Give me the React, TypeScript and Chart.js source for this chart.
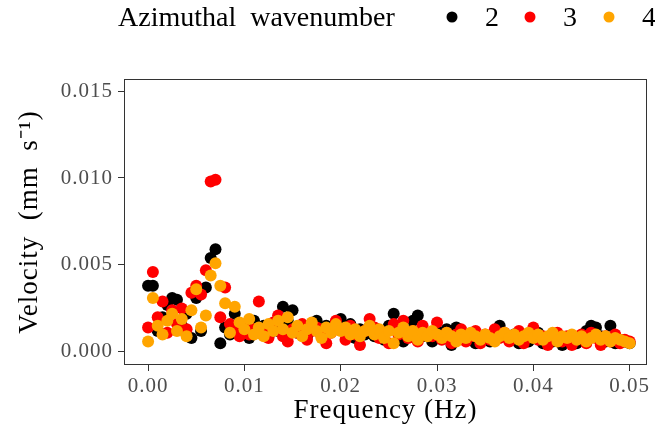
import React, { useEffect, useRef } from "react";
import { Chart, registerables } from "chart.js";

Chart.register(...registerables);

const freq = [
  0, 0.0005, 0.001, 0.0015, 0.002, 0.0025, 0.003, 0.0035, 0.004, 0.0045,
  0.005, 0.0055, 0.006, 0.0065, 0.007, 0.0075, 0.008, 0.0085, 0.009, 0.0095,
  0.01, 0.0105, 0.011, 0.0115, 0.012, 0.0125, 0.013, 0.0135, 0.014, 0.0145,
  0.015, 0.0155, 0.016, 0.0165, 0.017, 0.0175, 0.018, 0.0185, 0.019, 0.0195,
  0.02, 0.0205, 0.021, 0.0215, 0.022, 0.0225, 0.023, 0.0235, 0.024, 0.0245,
  0.025, 0.0255, 0.026, 0.0265, 0.027, 0.0275, 0.028, 0.0285, 0.029, 0.0295,
  0.03, 0.0305, 0.031, 0.0315, 0.032, 0.0325, 0.033, 0.0335, 0.034, 0.0345,
  0.035, 0.0355, 0.036, 0.0365, 0.037, 0.0375, 0.038, 0.0385, 0.039, 0.0395,
  0.04, 0.0405, 0.041, 0.0415, 0.042, 0.0425, 0.043, 0.0435, 0.044, 0.0445,
  0.045, 0.0455, 0.046, 0.0465, 0.047, 0.0475, 0.048, 0.0485, 0.049, 0.0495,
  0.05,
];

const wave2 = [
  0.0038, 0.0038, 0.0012, 0.002, 0.0027, 0.0031, 0.003, 0.0015, 0.0022, 0.0008,
  0.0031, 0.0012, 0.0037, 0.0054, 0.0059, 0.0005, 0.0014, 0.001, 0.0022, 0.0012,
  0.0013, 0.0008, 0.0018, 0.0011, 0.0015, 0.0009, 0.0016, 0.0012, 0.0026, 0.0018,
  0.0024, 0.0011, 0.0014, 0.0009, 0.0013, 0.0018, 0.001, 0.0015, 0.0012, 0.0017,
  0.0019, 0.0011, 0.0016, 0.0008, 0.0013, 0.001, 0.0014, 0.0009, 0.0012, 0.0007,
  0.0015, 0.0022, 0.001, 0.0006, 0.0012, 0.0018, 0.0021, 0.0009, 0.0011, 0.0006,
  0.0012, 0.0008, 0.0013, 0.0004, 0.0014, 0.0011, 0.0007, 0.001, 0.0005, 0.0009,
  0.0008, 0.0006, 0.0011, 0.0015, 0.0009, 0.0007, 0.001, 0.0005, 0.0008, 0.0006,
  0.0009, 0.0011, 0.0005, 0.0008, 0.0006, 0.001, 0.0004, 0.0007, 0.0009, 0.0005,
  0.0008, 0.0012, 0.0015, 0.0014, 0.0009, 0.0006, 0.0015, 0.0005, 0.0007, 0.0006,
  0.0005,
];

const wave3 = [
  0.0014, 0.0046, 0.002, 0.0029, 0.0011, 0.0024, 0.0016, 0.0025, 0.0013, 0.0034,
  0.0038, 0.0033, 0.0047, 0.0098, 0.0099, 0.002, 0.0037, 0.0016, 0.0012, 0.0009,
  0.0015, 0.001, 0.0013, 0.0029, 0.0012, 0.0008, 0.0017, 0.0021, 0.0009, 0.0006,
  0.0013, 0.0011, 0.0016, 0.0007, 0.0012, 0.0014, 0.0009, 0.0005, 0.0011, 0.0018,
  0.0013, 0.0007, 0.0015, 0.001, 0.0004, 0.0012, 0.0019, 0.0014, 0.0008, 0.0011,
  0.0005, 0.0016, 0.001, 0.0018, 0.0008, 0.0012, 0.0006, 0.0015, 0.0011, 0.0009,
  0.0017, 0.0007, 0.0011, 0.0005, 0.001, 0.0013, 0.0006, 0.0009, 0.0012, 0.0005,
  0.001, 0.0007, 0.0013, 0.0008, 0.0011, 0.0006, 0.0009, 0.0012, 0.0005, 0.001,
  0.0014, 0.0007, 0.0009, 0.0004, 0.0008, 0.0011, 0.0006, 0.0009, 0.0004, 0.0007,
  0.001, 0.0005, 0.0011, 0.0008, 0.0004, 0.0009, 0.0006, 0.001, 0.0005, 0.0007,
  0.0006,
];

const wave4 = [
  0.0006, 0.0031, 0.0015, 0.001, 0.0018, 0.0022, 0.0012, 0.0019, 0.0009, 0.0024,
  0.0036, 0.0014, 0.0021, 0.0044, 0.0051, 0.0038, 0.0028, 0.0011, 0.0026, 0.0017,
  0.0013, 0.0019, 0.001, 0.0014, 0.0009, 0.0016, 0.0012, 0.0018, 0.0013, 0.002,
  0.0011, 0.0015, 0.0009, 0.0013, 0.0017, 0.0012, 0.0008, 0.0014, 0.0011, 0.0016,
  0.0012, 0.0014, 0.001, 0.0013, 0.0009, 0.0012, 0.0015, 0.001, 0.0013, 0.0008,
  0.0012, 0.0005, 0.0011, 0.0014, 0.0009, 0.0012, 0.0007, 0.0011, 0.0009, 0.0012,
  0.001, 0.0008, 0.0011, 0.0009, 0.0006, 0.001, 0.0008, 0.0011, 0.0009, 0.0007,
  0.001, 0.0008, 0.0006, 0.0009, 0.0011, 0.0008, 0.001, 0.0007, 0.0009, 0.0011,
  0.0008, 0.001, 0.0007, 0.0009, 0.0011, 0.0006, 0.0009, 0.0008, 0.001, 0.0007,
  0.0009, 0.0006, 0.0008, 0.001, 0.0007, 0.0009, 0.0006, 0.0008, 0.0007, 0.0006,
  0.0005,
];

const seriesNames = ["2", "3", "4"];
const seriesColors = ["#000000", "#FF0000", "#FFA500"];
const xTicks = [0, 0.01, 0.02, 0.03, 0.04, 0.05];
const yTicks = [0, 0.005, 0.01, 0.015];
const legendTitle = "Azimuthal  wavenumber";
const xTitle = "Frequency (Hz)";
const yTitle = "Velocity  (mm  s\u207B\u00B9)";

const SERIF = "'Liberation Serif', 'Times New Roman', serif";

export default function App() {
  const ref = useRef<HTMLCanvasElement | null>(null);

  useEffect(() => {
    document.body.style.margin = "0";
    const canvas = ref.current!;
    const allSeries = [wave2, wave3, wave4];
    const datasets = allSeries.map((vals, s) => ({
      label: seriesNames[s],
      data: vals.map((v, i) => ({ x: freq[i], y: v })),
      backgroundColor: seriesColors[s],
      borderWidth: 0,
      pointRadius: 6,
      pointHoverRadius: 6,
      order: 3 - s,
    }));

    const framePlugin = {
      id: "frameAndLegend",
      beforeDraw(chart: any) {
        (chart.ctx as any).letterSpacing = "1px";
      },
      afterDraw(chart: any) {
        const { ctx, chartArea } = chart;
        ctx.save();
        (ctx as any).letterSpacing = "0px";
        ctx.strokeStyle = "#333333";
        ctx.lineWidth = 1;
        ctx.strokeRect(
          Math.round(chartArea.left) + 0.5,
          Math.round(chartArea.top) + 0.5,
          Math.round(chartArea.right - chartArea.left) - 1,
          Math.round(chartArea.bottom - chartArea.top) - 1
        );
        // legend
        ctx.fillStyle = "#000000";
        ctx.font = `28px ${SERIF}`;
        ctx.textBaseline = "alphabetic";
        ctx.textAlign = "left";
        ctx.fillText(legendTitle, 118, 26);
        const dotX = [452, 530, 609];
        seriesNames.forEach((n, i) => {
          ctx.beginPath();
          ctx.fillStyle = seriesColors[i];
          ctx.arc(dotX[i], 17, 5.5, 0, Math.PI * 2);
          ctx.fill();
          ctx.fillStyle = "#000000";
          ctx.fillText(n, dotX[i] + 33, 26);
        });
        ctx.restore();
      },
    };

    const chart = new Chart(canvas, {
      type: "scatter",
      data: { datasets },
      plugins: [framePlugin],
      options: {
        animation: false,
        responsive: false,
        maintainAspectRatio: false,
        layout: { padding: { top: 79, right: 8, bottom: 0, left: 0 } },
        plugins: { legend: { display: false }, tooltip: { enabled: false } },
        scales: {
          x: {
            type: "linear",
            min: -0.0025,
            max: 0.0518,
            afterFit: (s: any) => {
              s.height = 71;
            },
            afterBuildTicks: (s: any) => {
              s.ticks = xTicks.map((v) => ({ value: v }));
            },
            grid: {
              drawOnChartArea: false,
              drawTicks: true,
              tickLength: 6,
              color: "#333333",
            },
            border: { display: false },
            ticks: {
              padding: 3,
              color: "#4D4D4D",
              font: { family: SERIF, size: 21 },
              callback: (v: any) => Number(v).toFixed(2),
              maxRotation: 0,
            },
            title: {
              display: true,
              text: xTitle,
              color: "#000000",
              font: { family: SERIF, size: 27, lineHeight: 1 },
              padding: { top: 0, bottom: 12 },
            },
          },
          y: {
            type: "linear",
            min: -0.00075,
            max: 0.01569,
            afterFit: (s: any) => {
              s.width = 124;
            },
            afterBuildTicks: (s: any) => {
              s.ticks = yTicks.map((v) => ({ value: v }));
            },
            grid: {
              drawOnChartArea: false,
              drawTicks: true,
              tickLength: 6,
              color: "#333333",
            },
            border: { display: false },
            ticks: {
              padding: 5,
              color: "#4D4D4D",
              font: { family: SERIF, size: 21 },
              callback: (v: any) => Number(v).toFixed(3),
            },
            title: {
              display: true,
              text: yTitle,
              color: "#000000",
              font: { family: SERIF, size: 27, lineHeight: 1 },
              padding: { top: 16, bottom: 0 },
            },
          },
        },
      },
    });
    return () => chart.destroy();
  }, []);

  return (
    <div style={{ width: 655, height: 436 }}>
      <canvas ref={ref} width={655} height={436} style={{ display: "block" }} />
    </div>
  );
}
